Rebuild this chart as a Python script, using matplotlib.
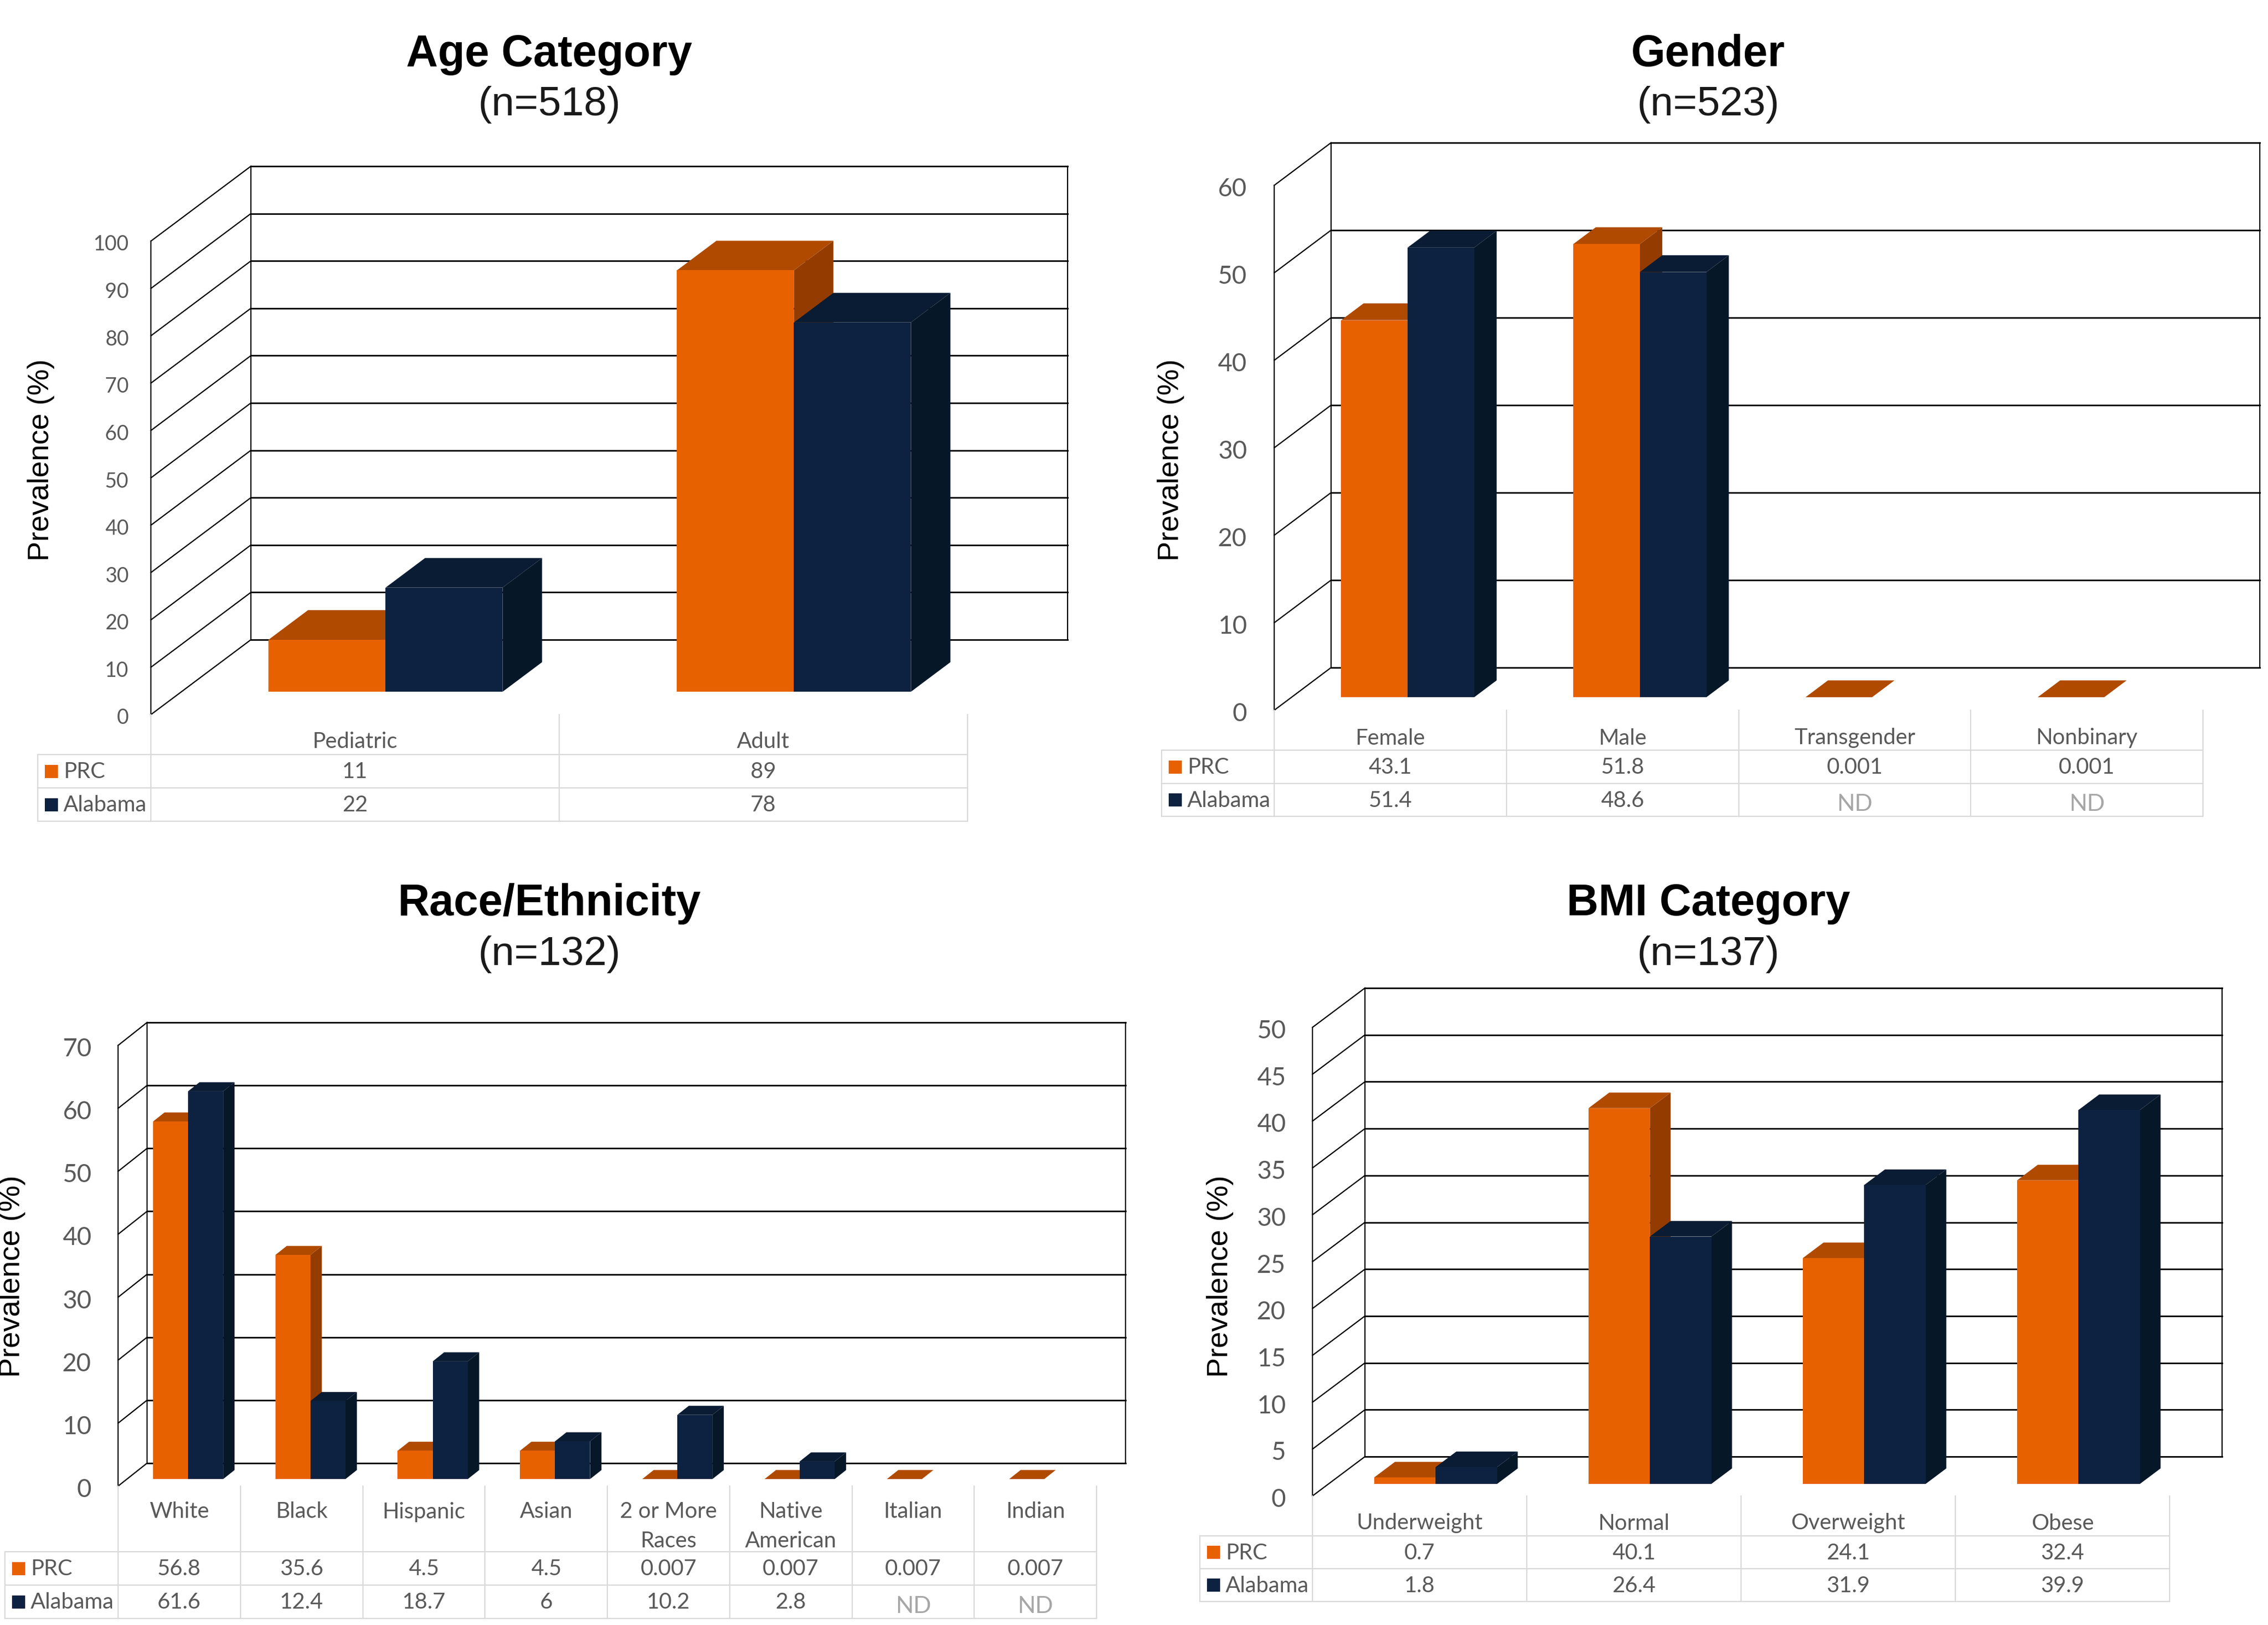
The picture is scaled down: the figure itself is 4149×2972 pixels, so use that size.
import matplotlib
matplotlib.use("Agg")
import matplotlib.pyplot as plt
from matplotlib.transforms import ScaledTranslation

W, H = 4149, 2972
DPI = 100

# ---- data ----
age_categories = ["Pediatric", "Adult"]
age_prc = [11, 89]
age_alabama = [22, 78]

gender_categories = ["Female", "Male", "Transgender", "Nonbinary"]
gender_prc = [43.1, 51.8, 0.001, 0.001]
gender_alabama = [51.4, 48.6, None, None]

race_categories = ["White", "Black", "Hispanic", "Asian", "2 or More\nRaces",
                   "Native\nAmerican", "Italian", "Indian"]
race_prc = [56.8, 35.6, 4.5, 4.5, 0.007, 0.007, 0.007, 0.007]
race_alabama = [61.6, 12.4, 18.7, 6, 10.2, 2.8, None, None]

bmi_categories = ["Underweight", "Normal", "Overweight", "Obese"]
bmi_prc = [0.7, 40.1, 24.1, 32.4]
bmi_alabama = [1.8, 26.4, 31.9, 39.9]

# ---- style ----
ORANGE = ("#E76100", "#B04A00", "#943C00")   # front, top, side
NAVY = ("#0D2240", "#0A1C33", "#061728")
TEXT = "#595959"
GRID = "#D9D9D9"
LATIN = ["Lato", "DejaVu Sans"]
ARIAL = ["Liberation Sans", "DejaVu Sans"]

fig = plt.figure(figsize=(W / DPI, H / DPI), dpi=DPI, facecolor="white")


def ftext(xp, yp, s, **kw):
    fig.text(xp / W, 1 - yp / H, s, ha="center", va="center", **kw)


def panel(cats, prc, ala, ymax, ystep, title, n, front_left, col_right, front_y0, front_top,
          dxp, dyp, rows, legend_left, header_y, title_y, label_xy, tick_fs, tick_pad):
    nc = len(cats)
    cw = (col_right - front_left) / nc
    ppu = (front_y0 - front_top) / ymax
    DX = dxp / cw
    DY = dyp / ppu
    ax = fig.add_axes([front_left / W, 1 - front_y0 / H,
                       (col_right + dxp - front_left) / W, (front_y0 - front_top + dyp) / H])
    ax.set_xlim(0, nc + DX)
    ax.set_ylim(0, ymax + DY)
    ax.patch.set_alpha(0)
    for s in ax.spines.values():
        s.set_visible(False)
    ax.set_xticks([])
    ticks = list(range(0, ymax + 1, ystep))
    ax.set_yticks(ticks)
    ax.set_yticklabels([str(t) for t in ticks], fontsize=tick_fs, color=TEXT, family=LATIN)
    ax.tick_params(axis="y", length=0, pad=tick_pad)
    shift = ScaledTranslation(0, -3 / DPI, fig.dpi_scale_trans)
    for lab in ax.get_yticklabels():
        lab.set_transform(lab.get_transform() + shift)

    # walls
    lk = dict(color="black", lw=2.0, clip_on=False, zorder=1, solid_capstyle="projecting")
    for t in ticks:
        ax.plot([DX, nc + DX], [t + DY, t + DY], **lk)
        ax.plot([0, DX], [t, t + DY], **{**lk, "lw": 1.6})
    ax.plot([0, 0], [0, ymax], **{**lk, "lw": 1.6})
    ax.plot([DX, DX], [DY, ymax + DY], **{**lk, "lw": 1.6})
    ax.plot([nc + DX, nc + DX], [DY, ymax + DY], **{**lk, "lw": 1.6})

    # bars
    bw = 0.2865
    f0, f1 = 0.305, 0.70
    x0 = (1 - 2 * bw) / 2
    for i in range(nc):
        for j, (vals, col) in enumerate(((prc, ORANGE), (ala, NAVY))):
            v = vals[i]
            if v is None:
                continue
            xl = i + x0 + j * bw + f0 * DX
            xr = xl + bw
            yb = f0 * DY
            yt = yb + v
            ddx = (f1 - f0) * DX
            ddy = (f1 - f0) * DY
            ax.fill([xr, xr + ddx, xr + ddx, xr], [yb, yb + ddy, yt + ddy, yt],
                    color=col[2], lw=0, zorder=3, clip_on=False)
            ax.fill([xl, xr, xr + ddx, xl + ddx], [yt, yt, yt + ddy, yt + ddy],
                    color=col[1], lw=0, zorder=3, clip_on=False)
            ax.bar(xl, v, width=bw, bottom=yb, align="edge", color=col[0], lw=0,
                   zorder=3, clip_on=False)

    # table
    def vy(yp):
        return (front_y0 - yp) / ppu

    leg = (legend_left - front_left) / cw
    tk = dict(color=GRID, lw=1.6, clip_on=False, zorder=1)
    for yp in rows:
        ax.plot([leg, nc], [vy(yp)] * 2, **tk)
    for i in range(nc + 1):
        ax.plot([i, i], [vy(front_y0), vy(rows[-1])], **tk)
    ax.plot([leg, leg], [vy(rows[0]), vy(rows[-1])], **tk)

    tt = dict(ha="center", va="center", color=TEXT, family=LATIN, fontsize=29, clip_on=False)
    for i, c in enumerate(cats):
        for k, line in enumerate(c.split("\n")):
            ax.text(i + 0.5, vy(header_y + 3 + k * 53), line, **tt)
    for r, (name, vals, col) in enumerate((("PRC", prc, ORANGE[0]), ("Alabama", ala, NAVY[0]))):
        yc = (rows[r] + rows[r + 1]) / 2
        ax.bar(leg + 13 / cw, 24 / ppu, width=24 / cw, bottom=vy(yc + 12), align="edge",
               color=col, lw=0, clip_on=False)
        ax.text(leg + 47 / cw, vy(yc + 1), name, **{**tt, "ha": "left"})
        for i, v in enumerate(vals):
            if v is None:
                ax.text(i + 0.5, vy(yc + 8), "ND", **{**tt, "color": "#A6A6A6", "fontsize": 31})
            else:
                ax.text(i + 0.5, vy(yc + 1), f"{v:g}", **tt)

    cx = (1005 if front_left < 2000 else 3125)
    ftext(cx, title_y + 7, title, fontsize=58, fontweight="bold", family=ARIAL, color="black")
    ftext(cx, title_y + 99, f"(n={n})", fontsize=54, family=ARIAL, color="#1a1a1a")
    ftext(label_xy[0] + 4, label_xy[1], "Prevalence (%)", rotation=90, fontsize=39,
          family=ARIAL, color="black")


panel(age_categories, age_prc, age_alabama, 100, 10, "Age Category", 518,
      276, 1770, 1307, 441, 183, 137, [1380, 1441, 1502], 69, 1354, 93, (71, 841), 27, 29)
panel(gender_categories, gender_prc, gender_alabama, 60, 10, "Gender", 523,
      2331, 4030, 1299, 339, 104, 78, [1372, 1433, 1493], 2125, 1347, 93, (2138, 841), 33, 36)
panel(race_categories, race_prc, race_alabama, 70, 10, "Race/Ethnicity", 132,
      216, 2006, 2718, 1912, 53, 42, [2838, 2899, 2960], 9, 2762, 1646, (18, 2334), 33, 35)
panel(bmi_categories, bmi_prc, bmi_alabama, 50, 5, "BMI Category", 137,
      2401, 3969, 2736, 1879, 96, 72, [2809, 2869, 2929], 2195, 2783, 1646, (2228, 2334), 33, 35)

fig.savefig("out.png", dpi=DPI, facecolor="white")
